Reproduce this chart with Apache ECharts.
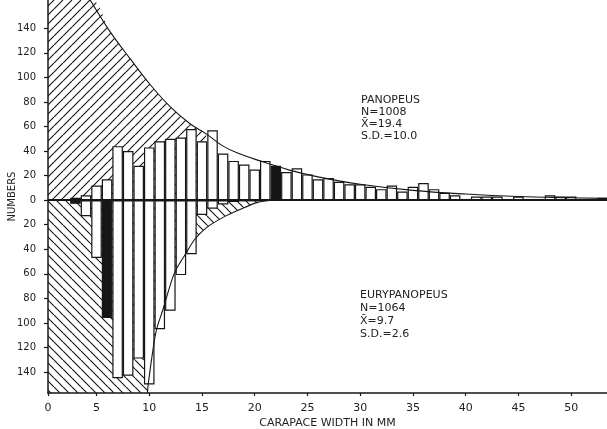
<!DOCTYPE html>
<html><head><meta charset="utf-8">
<script src="https://cdn.jsdelivr.net/npm/echarts@6/dist/echarts.min.js"></script>
<style>html,body{margin:0;padding:0;background:#fff}#c{width:607px;height:429px}</style>
</head><body><div id="c"></div>
<script>
// carapace width classes (mm)
const widths = [0,1,2,3,4,5,6,7,8,9,10,11,12,13,14,15,16,17,18,19,20,21,22,23,24,25,26,27,28,29,30,31,32,33,34,35,36,37,38,39,40,41,42,43,44,45,46,47,48,49,50,51,52,53];
// Panopeus counts (upper histogram)
const panopeus = [null,null,null,2,4,12,17,44,40,28,43,48,50,51,58,48,57,38,32,29,25,32,28,23,26,21,17,18,15,13,13,11,9,12,7,11,14,9,6,4,1,3,3,3,1,3,1,1,4,3,3,1,1,2];
// Eurypanopeus counts (lower histogram, drawn downward)
const eurypanopeus = [null,null,null,3,13,47,96,145,143,129,150,105,90,61,44,12,7,3.5,1.5,1,1,null,null,null,null,null,null,null,null,null,null,null,null,null,null,null,null,null,null,null,null,null,null,null,null,null,null,null,null,null,null,null,null,null];
// classes drawn as solid black bars
const panopeusBlack = [3,22,53];
const eurypanopeusBlack = [3,6,18];
// envelope curves
const panCurveMm = [4.4,6.3,8.2,10.1,12.0,13.9,15.4,17.0,18.5,20.5,23.3,26,30,35,40,45,50,53.4];
const panCurveN  = [163,137,115,94,76,62,54,44,38,32,24.5,19,13,8,5,3,2,1.5];
const panHatchMm = [0.4,4.4,6.3,8.2,10.1,12.0,13.9,15.4];
const panHatchN  = [163,163,137,115,94,76,62,54];
const eurCurveMm = [9.83,9.9,10.4,10.7,11.3,12.4,13.5,14.3,15.4,17.0,18.6,20.2,21.4];
const eurCurveN  = [157,150,119,105,89,59,43,32,22.5,14,7.6,2,0.3];
const eurHatchMm = [0.4,9.83,9.9,10.4,10.7,11.3,12.4,13.5,14.3,15.4,17.0,18.6,20.2,21.4];
const eurHatchN  = [157,157,150,119,105,89,59,43,32,22.5,14,7.6,2,0.3];
// tick labels
const xTicks = [0,5,10,15,20,25,30,35,40,45,50];
const yTicks = [-140,-120,-100,-80,-60,-40,-20,0,20,40,60,80,100,120,140];

const INK = '#161616';
const FONT = 'DejaVu Sans';
const xStart = 0.4;

function hatch(dir){
  const s = 9, c = document.createElement('canvas');
  c.width = s; c.height = s;
  const g = c.getContext('2d');
  g.strokeStyle = '#1a1a1a'; g.lineWidth = 1.2; g.beginPath();
  for (let k = -1; k <= 1; k++) {
    if (dir > 0) { g.moveTo(k*s, s); g.lineTo(k*s + s, 0); }
    else { g.moveTo(k*s, 0); g.lineTo(k*s + s, s); }
  }
  g.stroke();
  return c;
}

const barStyle = {color:'#fff', borderColor: INK, borderWidth: 1.2};
function barData(vals, blacks, sign){
  const out = [];
  widths.forEach((m, i) => {
    const v = vals[i];
    if (v == null) return;
    const item = {value: [m, sign * v]};
    if (blacks.indexOf(m) >= 0) item.itemStyle = {color: INK, borderColor: INK, borderWidth: 1.2};
    out.push(item);
  });
  return out;
}
const pairs = (xs, ys, sign) => xs.map((x, i) => [x, sign * ys[i]]);

const chart = echarts.init(document.getElementById('c'), null, {renderer:'canvas'});
chart.setOption({
  backgroundColor: '#fff',
  animation: false,
  grid: {left: 48, right: 0, top: 0, bottom: 36, containLabel: false, outerBoundsMode: 'none'},
  xAxis: {
    type: 'value', min: xStart, max: 53.4,
    axisLine: {show: true, onZero: false, lineStyle: {color: INK, width: 1.5}},
    axisTick: {show: true, customValues: xTicks.map(v => Math.max(v, xStart)), length: 3, lineStyle: {color: INK, width: 1.2}},
    axisLabel: {customValues: xTicks.map(v => Math.max(v, xStart)), formatter: v => (v <= xStart ? '0' : String(v)),
      fontSize: 11, color: '#222', margin: 10, fontFamily: FONT},
    splitLine: {show: false},
    name: 'CARAPACE WIDTH IN MM', nameLocation: 'middle', nameGap: 25, nameMoveOverlap: false,
    nameTextStyle: {fontSize: 11, color: '#222', fontFamily: FONT}
  },
  yAxis: {
    type: 'value', min: -157, max: 163,
    axisLine: {show: true, lineStyle: {color: INK, width: 1.5}},
    axisTick: {show: true, customValues: yTicks, length: 4, lineStyle: {color: INK, width: 1.2}},
    axisLabel: {customValues: yTicks, formatter: v => String(Math.abs(v)), fontSize: 10, color: '#222', margin: 12, fontFamily: FONT},
    splitLine: {show: false},
    name: 'NUMBERS', nameLocation: 'middle', nameGap: 31, nameRotate: 90, nameMoveOverlap: false,
    nameTextStyle: {fontSize: 10, color: '#222', fontFamily: FONT}
  },
  series: [
    {type: 'line', name: 'hatchTop', data: pairs(panHatchMm, panHatchN, 1), symbol: 'none', smooth: 0.4,
      lineStyle: {width: 0, opacity: 0}, areaStyle: {color: {image: hatch(1), repeat: 'repeat'}, opacity: 1}, z: 1, silent: true},
    {type: 'line', name: 'hatchBottom', data: pairs(eurHatchMm, eurHatchN, -1), symbol: 'none', smooth: 0.3,
      lineStyle: {width: 0, opacity: 0}, areaStyle: {color: {image: hatch(-1), repeat: 'repeat'}, opacity: 1}, z: 1, silent: true},
    {type: 'bar', name: 'Panopeus', stack: 'h', barWidth: '100%', barCategoryGap: 0, data: barData(panopeus, panopeusBlack, 1),
      itemStyle: barStyle, z: 2, silent: true},
    {type: 'bar', name: 'Eurypanopeus', stack: 'h', data: barData(eurypanopeus, eurypanopeusBlack, -1),
      itemStyle: barStyle, z: 2, silent: true},
    {type: 'line', name: 'curveTop', data: pairs(panCurveMm, panCurveN, 1), symbol: 'none', smooth: 0.4,
      lineStyle: {color: INK, width: 1.1}, z: 3, silent: true},
    {type: 'line', name: 'curveBottom', data: pairs(eurCurveMm, eurCurveN, -1), symbol: 'none', smooth: 0.3,
      lineStyle: {color: INK, width: 1.1}, z: 3, silent: true,
      markLine: {silent: true, symbol: 'none', label: {show: false}, data: [{yAxis: 0}],
        lineStyle: {color: INK, width: 2.2, type: 'solid'}}}
  ],
  graphic: [
    {type: 'text', left: 361, top: 94, z: 10, style: {text: 'PANOPEUS\nN=1008\nX\u0304=19.4\nS.D.=10.0',
      font: '11px "DejaVu Sans"', lineHeight: 12, fill: '#222'}},
    {type: 'text', left: 360, top: 289, z: 10, style: {text: 'EURYPANOPEUS\nN=1064\nX\u0304=9.7\nS.D.=2.6',
      font: '11px "DejaVu Sans"', lineHeight: 13, fill: '#222'}}
  ]
});
</script>
</body></html>
